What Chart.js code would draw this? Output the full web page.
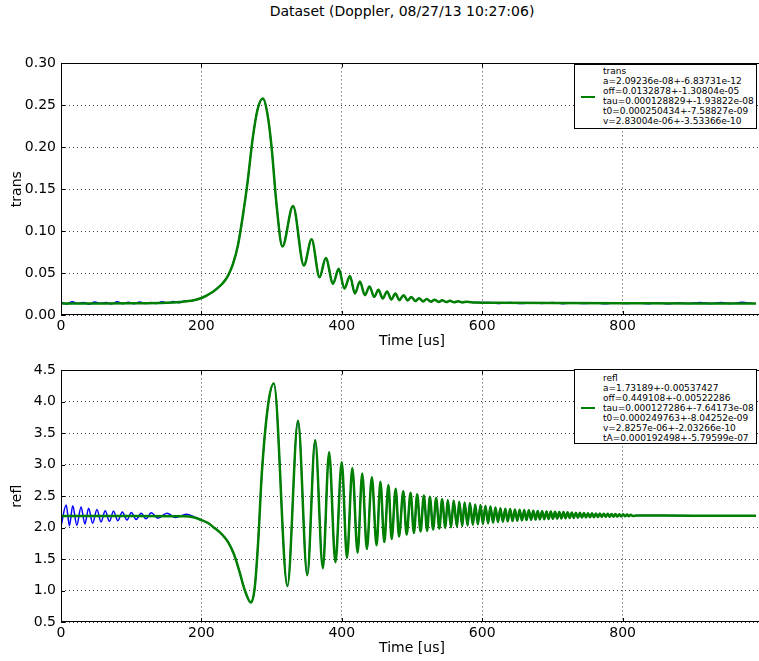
<!DOCTYPE html>
<html>
<head>
<meta charset="utf-8">
<script src="https://cdn.jsdelivr.net/npm/chart.js@4.4.1/dist/chart.umd.min.js"></script>
<style>
  html, body { margin: 0; padding: 0; background: #fff; overflow: hidden; width: 759px; height: 661px; }
  body { position: relative; font-family: 'DejaVu Sans', sans-serif; color: #000; }
  #title { position: absolute; left: 0; width: 804px; top: 3px; text-align: center; font-size: 14px; line-height: 16px; }
  canvas { position: absolute; left: 0; }
  #transChart { top: 50px; }
  #reflChart { top: 357px; }
  .legend { position: absolute; left: 574px; width: 181px; border: 1px solid #000; background: #fff; font-size: 9px; line-height: 10px; }
  .legend .handle { position: absolute; left: 6px; width: 14px; height: 2.5px; background: #008000; }
  .legend .text { margin-left: 28px; white-space: nowrap; }
  #transLegend { top: 64px; padding: 1px 0 2px 0; }
  #transLegend .handle { top: 30.5px; }
  #reflLegend { top: 369px; padding: 3px 0 0 0; }
  #reflLegend .handle { top: 36.5px; }
</style>
</head>
<body>
<div id="title">Dataset (Doppler, 08/27/13 10:27:06)</div>
<canvas id="transChart" width="766" height="310"></canvas>
<canvas id="reflChart" width="766" height="310"></canvas>

<div class="legend" id="transLegend">
  <div class="handle"></div>
  <div class="text">trans<br>a=2.09236e-08+-6.83731e-12<br>off=0.0132878+-1.30804e-05<br>tau=0.000128829+-1.93822e-08<br>t0=0.000250434+-7.58827e-09<br>v=2.83004e-06+-3.53366e-10</div>
</div>
<div class="legend" id="reflLegend">
  <div class="handle"></div>
  <div class="text">refl<br>a=1.73189+-0.00537427<br>off=0.449108+-0.00522286<br>tau=0.000127286+-7.64173e-08<br>t0=0.000249763+-8.04252e-09<br>v=2.8257e-06+-2.03266e-10<br>tA=0.000192498+-5.79599e-07</div>
</div>

<script>
// x ticks (Time [us])
const timeTicks = [0, 200, 400, 600, 800, 1000];

// trans fit (green)
const transT = [0, 50, 100, 150, 170, 185, 198, 208, 217, 225, 231, 238, 245, 252, 259, 266, 273, 280, 287.6, 294, 300, 307,
  315.4, 330.5, 346, 357, 368.3, 377.2, 387.5, 395.6, 403.7, 411.6, 418.7, 425.8, 432.8, 439.5, 446.1, 452.2, 458.3, 464.5,
  470.6, 476.3, 482, 488, 494, 499, 505, 510, 516, 521, 527, 532, 538, 543, 549, 554, 560, 566, 572, 578, 590, 620, 700, 800, 900, 990];
const transV = [0.0138, 0.0138, 0.0139, 0.0145, 0.0155, 0.0170, 0.0197, 0.0235, 0.0280, 0.0335, 0.0385, 0.0470, 0.0610, 0.0830,
  0.1180, 0.1600, 0.2100, 0.2450, 0.2580, 0.2400, 0.2000, 0.1320,
  0.0817, 0.1300, 0.0590, 0.0904, 0.0450, 0.0680, 0.0374, 0.0550, 0.0315, 0.0464, 0.0256, 0.0400, 0.0236, 0.0340, 0.0216, 0.0300, 0.0197, 0.0280,
  0.0185, 0.0256, 0.0177, 0.0236, 0.0173, 0.0216, 0.0166, 0.0200, 0.0162, 0.0190, 0.0158, 0.0182, 0.0156, 0.0175, 0.0154, 0.0170, 0.0152, 0.0163, 0.0150, 0.0158, 0.0148, 0.0145, 0.0142, 0.0140, 0.0138, 0.0137];

// trans measured (blue), noisy ends; middle lies under the fit
const transBlueEarlyT = [0, 8, 16, 24, 32, 40, 48, 56, 64, 72, 80, 88, 96, 104, 112, 120, 128, 136, 144, 152, 160, 168, 176, 184, 192];
const transBlueEarlyV = [0.0152, 0.0131, 0.0158, 0.0136, 0.0150, 0.0129, 0.0156, 0.0138, 0.0149, 0.0132, 0.0157, 0.0135, 0.0151,
  0.0133, 0.0155, 0.0137, 0.0150, 0.0136, 0.0158, 0.0141, 0.0160, 0.0147, 0.0168, 0.0163, 0.0180];
const transBlueLateT = [610, 625, 640, 655, 670, 685, 700, 715, 730, 745, 760, 775, 790, 805, 820, 835, 850, 865, 880, 895, 910, 925, 940, 955, 970, 985];
const transBlueLateV = [0.0150, 0.0138, 0.0149, 0.0136, 0.0147, 0.0137, 0.0148, 0.0135, 0.0146, 0.0136, 0.0147, 0.0134, 0.0146,
  0.0136, 0.0145, 0.0135, 0.0147, 0.0134, 0.0146, 0.0137, 0.0148, 0.0136, 0.0150, 0.0138, 0.0151, 0.0139];

// refl fit (green)
const reflT = [0, 100, 175, 190, 200, 210, 218, 226, 232, 238, 246, 253, 262, 270.6, 276, 281, 286, 295,
  303.2, 322.5, 337.6, 350.8, 362.1, 373.0, 381.9, 390.9, 399.9, 407.4, 415.0, 422.5, 429.1, 435.7, 442.8, 449.5,
  455.0, 460.5, 466.4, 471.0, 476.8, 481.5, 487.6, 492.3, 498.0, 502.7, 507.4, 512.2, 516.9, 521.6, 525.4, 530.1,
  534.3, 539.0, 542.8, 547.5, 550.9, 555.6, 559.3, 564.0, 567.3, 571.6, 574.9, 579.2, 582.4, 586.7, 590.0, 593.8,
  597.6, 600.9, 604.6, 608.4, 611.7, 615.5, 618.8, 622.5, 625.9, 629.4, 632.9, 636.3, 639.8, 643.2, 646.6, 650.0,
  653.3, 656.6, 659.9, 663.1, 666.4, 669.6, 672.8, 676.0, 679.1, 682.2, 685.4, 688.5, 691.6, 694.6, 697.7, 700.7,
  703.8, 706.8, 709.8, 712.8, 715.8, 718.7, 721.7, 724.6, 727.6, 730.5, 733.4, 736.3, 739.2, 742.1, 745.0, 747.8,
  750.7, 753.5, 756.4, 759.2, 762.0, 764.8, 767.6, 770.4, 773.2, 776.0, 778.8, 781.5, 784.3, 787.0, 789.8, 792.5,
  795.3, 798.0, 800.8, 803.5, 806.3, 809.0, 811.8, 814.5, 820, 900, 990];
const reflV = [2.185, 2.185, 2.18, 2.16, 2.12, 2.07, 2.00, 1.93, 1.86, 1.77, 1.59, 1.35, 1.00, 0.81, 1.05, 1.80, 2.85, 3.95,
  4.29, 1.07, 3.70, 1.245, 3.39, 1.355, 3.20, 1.45, 3.04, 1.52, 2.95, 1.60, 2.86, 1.66, 2.80, 1.72,
  2.73, 1.77, 2.68, 1.82, 2.62, 1.86, 2.58, 1.89, 2.555, 1.915, 2.53, 1.94, 2.51, 1.95, 2.49, 1.97,
  2.47, 1.985, 2.45, 1.995, 2.44, 2.005, 2.43, 2.015, 2.41, 2.025, 2.40, 2.035, 2.39, 2.045, 2.37, 2.055,
  2.36, 2.06, 2.345, 2.07, 2.335, 2.08, 2.32, 2.09, 2.31, 2.095, 2.30, 2.10, 2.295, 2.105, 2.29, 2.11,
  2.285, 2.115, 2.28, 2.12, 2.275, 2.124, 2.27, 2.128, 2.265, 2.132, 2.26, 2.135, 2.258, 2.138, 2.255, 2.141,
  2.252, 2.144, 2.25, 2.147, 2.247, 2.15, 2.244, 2.153, 2.241, 2.155, 2.238, 2.157, 2.235, 2.16, 2.232, 2.162,
  2.23, 2.164, 2.228, 2.166, 2.226, 2.168, 2.224, 2.17, 2.222, 2.172, 2.22, 2.173, 2.218, 2.175, 2.216, 2.176,
  2.214, 2.177, 2.212, 2.18, 2.208, 2.183, 2.205, 2.186, 2.195, 2.19, 2.19];

// refl measured (blue) before the dip; afterwards it lies under the fit
const reflBlueEarlyT = [0, 7.4, 12.0, 16.7, 22.5, 28.6, 34.0, 39.4, 45.0, 51.2, 57.0, 63.0, 69.0, 74.7, 81.0, 87.4, 94.0,
  100.2, 107.0, 114.3, 121.0, 128.5, 138.0, 151.0, 163.0, 178.6, 190, 200];
const reflBlueEarlyV = [2.02, 2.36, 2.03, 2.35, 2.04, 2.33, 2.06, 2.31, 2.07, 2.29, 2.09, 2.27, 2.10, 2.26, 2.11, 2.25, 2.12,
  2.24, 2.13, 2.23, 2.14, 2.235, 2.15, 2.23, 2.16, 2.215, 2.17, 2.12];

const GREEN = '#008000';
const BLUE = '#0000ff';

function pts(ts, vs) {
  return ts.map((t, i) => ({ x: t, y: vs[i] }));
}

Chart.defaults.font.family = 'DejaVu Sans';
Chart.defaults.font.size = 14;
Chart.defaults.color = '#000';

// box around plot + inward ticks, like the old matplotlib style
const framePlugin = {
    id: 'frame',
    afterDatasetsDraw(chart) {
        const { ctx, chartArea: a, scales: { x, y } } = chart;
        ctx.save();
        ctx.strokeStyle = '#000';
        ctx.lineWidth = 1;
        ctx.beginPath();
        x.ticks.forEach(t => {
            const px = Math.round(x.getPixelForValue(t.value)) + 0.5;
            ctx.moveTo(px, a.bottom); ctx.lineTo(px, a.bottom - 4);
            ctx.moveTo(px, a.top); ctx.lineTo(px, a.top + 4);
        });
        y.ticks.forEach(t => {
            const py = Math.round(y.getPixelForValue(t.value)) + 0.5;
            ctx.moveTo(a.left, py); ctx.lineTo(a.left + 4, py);
            ctx.moveTo(a.right, py); ctx.lineTo(a.right - 4, py);
        });
        ctx.stroke();
        ctx.strokeRect(Math.round(a.left) + 0.5, Math.round(a.top) + 0.5,
            Math.round(a.width) - 1, Math.round(a.height) - 1);
        ctx.restore();
    }
};

function makeChart(id, datasets, yMin, yMax, yStep, digits, yTitle) {
    return new Chart(document.getElementById(id), {
        type: 'line',
        data: { datasets },
        options: {
            responsive: false,
            animation: false,
            events: [],
            layout: { padding: { top: 10, right: 0, bottom: 0, left: 0 } },
            elements: { point: { radius: 0 } },
            plugins: { legend: { display: false }, tooltip: { enabled: false } },
            scales: {
                x: {
                    type: 'linear',
                    min: 0,
                    max: 1000,
                    afterBuildTicks: s => { s.ticks = timeTicks.map(v => ({ value: v })); },
                    afterFit: s => { s.height = 45; },
                    grid: { color: 'rgba(0,0,0,0.75)', lineWidth: 1, drawTicks: false },
                    border: { display: false, dash: [1, 3] },
                    ticks: {
                        padding: 3,
                        maxRotation: 0,
                        autoSkip: false,
                        callback: v => (v === 1000 ? '' : String(v))
                    },
                    title: { display: true, text: 'Time [us]', padding: { top: 0, bottom: 10 } }
                },
                y: {
                    min: yMin,
                    max: yMax,
                    afterFit: s => { s.width = 61; },
                    grid: { color: 'rgba(0,0,0,0.75)', lineWidth: 1, drawTicks: false },
                    border: { display: false, dash: [1, 3] },
                    ticks: {
                        stepSize: yStep,
                        padding: 5,
                        callback: v => Number(v).toFixed(digits)
                    },
                    title: { display: true, text: yTitle, padding: { top: 9, bottom: 0 } }
                }
            }
        },
        plugins: [framePlugin]
    });
}

const lineOpts = (data, color, width, order) => ({
    data,
    borderColor: color,
    borderWidth: width,
    backgroundColor: color,
    fill: false,
    cubicInterpolationMode: 'monotone',
    order
});

const transBlue = pts(transBlueEarlyT, transBlueEarlyV)
    .concat(pts(transT, transV).filter(p => p.x > 195 && p.x < 605))
    .concat(pts(transBlueLateT, transBlueLateV));

makeChart('transChart', [
    lineOpts(pts(transT, transV), GREEN, 2.5, 0),
    lineOpts(transBlue, BLUE, 1.5, 1)
], 0, 0.3, 0.05, 2, 'trans');

const reflBlue = pts(reflBlueEarlyT, reflBlueEarlyV)
    .concat(pts(reflT, reflV).filter(p => p.x > 205));

makeChart('reflChart', [
    lineOpts(pts(reflT, reflV), GREEN, 2.5, 0),
    lineOpts(reflBlue, BLUE, 1.5, 1)
], 0.5, 4.5, 0.5, 1, 'refl');
</script>
</body>
</html>
